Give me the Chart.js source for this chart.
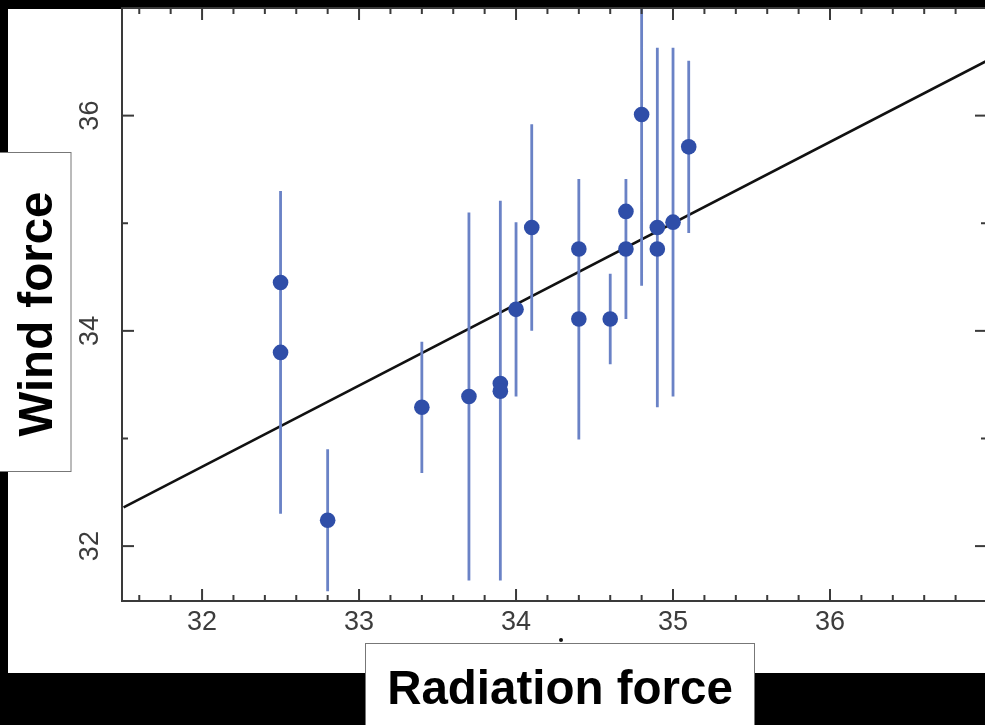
<!DOCTYPE html>
<html>
<head>
<meta charset="utf-8">
<script src="https://cdn.jsdelivr.net/npm/chart.js@4/dist/chart.umd.min.js"></script>
<style>
  html, body { margin: 0; padding: 0; background: #000; overflow: hidden; }
  #wrap { position: absolute; left: 0; top: 0; width: 995px; height: 725px; }
</style>
</head>
<body>
<div id="wrap"><canvas id="chart" width="995" height="725"></canvas></div>
<script>
// ── Data ──
const xVals = [32.5, 32.5, 32.8, 33.4, 33.7, 33.9, 33.9, 34.0, 34.1, 34.4, 34.4, 34.6, 34.7, 34.7, 34.8, 34.9, 34.9, 35.0, 35.1];
const yVals = [34.45, 33.8, 32.24, 33.29, 33.39, 33.51, 33.44, 34.2, 34.96, 34.76, 34.11, 34.11, 35.11, 34.76, 36.01, 34.96, 34.76, 35.01, 35.71];
const yErr  = [0.85, 1.5, 0.66, 0.61, 1.71, 1.7, 1.76, 0.81, 0.96, 0.65, 1.12, 0.42, 0.3, 0.65, 1.59, 1.67, 1.4, 1.62, 0.8];

// fitted line end points
const fitX = [31.5, 37.0];
const fitY = [32.36, 36.51];

const xMajorTicks = [32, 33, 34, 35, 36];
const yMajorTicks = [32, 34, 36];
const yMinorTicks = [33, 35];
const xRange = [31.49, 37.0];
const yRange = [31.49, 37.0];

const X_TITLE = 'Radiation force';
const Y_TITLE = 'Wind force';

// ── Build datasets ──
const points = xVals.map((x, i) => ({ x, y: yVals[i] }));
const errSegments = [];
xVals.forEach((x, i) => {
  errSegments.push({ x, y: yVals[i] - yErr[i] });
  errSegments.push({ x, y: yVals[i] + yErr[i] });
  errSegments.push({ x, y: null });
});
const fitLine = fitX.map((x, i) => ({ x, y: fitY[i] }));

// x minor ticks every 0.2
function xMinorTicks() {
  const out = [];
  for (let k = Math.ceil(xRange[0] * 5); k <= Math.floor(xRange[1] * 5); k++) {
    if (k % 5 !== 0) out.push(k / 5);
  }
  return out;
}

// ── Frame / axes plugin ──
const AXIS_COLOR = '#3a3a3a';
const LABEL_COLOR = '#3c3c3c';

const framePlugin = {
  id: 'frame',
  beforeDraw(chart) {
    const { ctx } = chart;
    ctx.save();
    ctx.fillStyle = '#000';
    ctx.fillRect(0, 0, chart.width, chart.height);
    ctx.fillStyle = '#fff';
    ctx.fillRect(8, 9, chart.width - 8, 664);
    ctx.restore();
  },
  afterDatasetsDraw(chart) {
    const { ctx, chartArea: a, scales: { x, y } } = chart;
    ctx.save();
    ctx.strokeStyle = AXIS_COLOR;
    ctx.lineWidth = 2;
    ctx.strokeRect(a.left, a.top, a.right - a.left, a.bottom - a.top);

    const tick = (x1, y1, x2, y2) => {
      ctx.beginPath(); ctx.moveTo(x1, y1); ctx.lineTo(x2, y2); ctx.stroke();
    };
    // x ticks (bottom + top), pointing inward
    xMajorTicks.forEach(v => {
      const px = x.getPixelForValue(v);
      tick(px, a.bottom, px, a.bottom - 12);
      tick(px, a.top, px, a.top + 12);
    });
    xMinorTicks().forEach(v => {
      const px = x.getPixelForValue(v);
      tick(px, a.bottom, px, a.bottom - 6);
      tick(px, a.top, px, a.top + 6);
    });
    // y ticks (left + right)
    yMajorTicks.forEach(v => {
      const py = y.getPixelForValue(v);
      tick(a.left, py, a.left + 12, py);
      tick(a.right, py, a.right - 12, py);
    });
    yMinorTicks.forEach(v => {
      const py = y.getPixelForValue(v);
      tick(a.left, py, a.left + 6, py);
      tick(a.right, py, a.right - 6, py);
    });

    // tick labels
    ctx.fillStyle = LABEL_COLOR;
    ctx.font = '27px "Liberation Sans", Arial, sans-serif';
    ctx.textAlign = 'center';
    ctx.textBaseline = 'middle';
    xMajorTicks.forEach(v => {
      ctx.fillText(String(v), x.getPixelForValue(v), 623);
    });
    yMajorTicks.forEach(v => {
      ctx.save();
      ctx.translate(91, y.getPixelForValue(v));
      ctx.rotate(-Math.PI / 2);
      ctx.fillText(String(v), 0, 0);
      ctx.restore();
    });
    ctx.restore();
  },
  afterDraw(chart) {
    const { ctx } = chart;
    ctx.save();
    // stray dot under the axis
    ctx.fillStyle = '#111';
    ctx.beginPath(); ctx.arc(561, 640, 2, 0, Math.PI * 2); ctx.fill();

    ctx.strokeStyle = '#777';
    ctx.lineWidth = 1;
    ctx.fillStyle = '#fff';
    // y title box
    ctx.fillRect(-2, 152, 73, 320);
    ctx.strokeRect(-2, 152.5, 73, 319);
    // x title box
    ctx.fillRect(365, 643, 390, 90);
    ctx.strokeRect(365.5, 643.5, 389, 90);

    ctx.fillStyle = '#000';
    ctx.font = 'bold 47.5px "Liberation Sans", Arial, sans-serif';
    ctx.textAlign = 'center';
    ctx.textBaseline = 'alphabetic';
    ctx.fillText(X_TITLE, 560, 704);
    ctx.translate(52, 314);
    ctx.rotate(-Math.PI / 2);
    ctx.fillText(Y_TITLE, 0, 0);
    ctx.restore();
  }
};

// ── Chart ──
new Chart(document.getElementById('chart'), {
  type: 'scatter',
  data: {
    datasets: [
      {
        label: 'data',
        data: points,
        pointRadius: 7.8,
        pointHoverRadius: 7.8,
        pointBackgroundColor: '#2f4ea8',
        pointBorderWidth: 0,
        showLine: false,
        order: 0
      },
      {
        label: 'error',
        data: errSegments,
        showLine: true,
        spanGaps: false,
        pointRadius: 0,
        borderColor: '#6a82c6',
        borderWidth: 2.8,
        order: 1
      },
      {
        label: 'fit',
        data: fitLine,
        showLine: true,
        pointRadius: 0,
        borderColor: '#111',
        borderWidth: 2.5,
        order: 2
      }
    ]
  },
  options: {
    responsive: false,
    animation: false,
    layout: { padding: { left: 122, right: 8, top: 8, bottom: 124 } },
    plugins: {
      legend: { display: false },
      tooltip: { enabled: false }
    },
    scales: {
      x: { type: 'linear', min: xRange[0], max: xRange[1], display: false },
      y: { type: 'linear', min: yRange[0], max: yRange[1], display: false }
    }
  },
  plugins: [framePlugin]
});
</script>
</body>
</html>
